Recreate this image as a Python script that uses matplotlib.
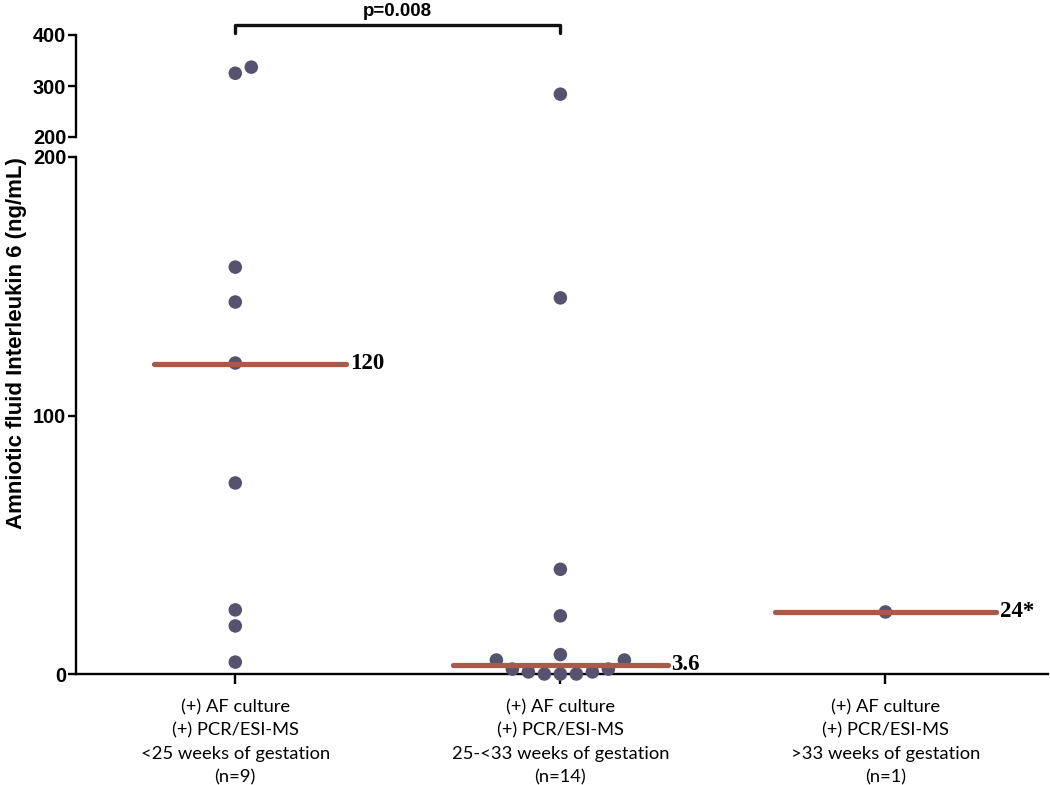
import matplotlib.pyplot as plt
import numpy as np

# data (ng/mL)
groups = ['(+) AF culture\n(+) PCR/ESI-MS\n<25 weeks of gestation\n(n=9)',
          '(+) AF culture\n(+) PCR/ESI-MS\n25-<33 weeks of gestation\n(n=14)',
          '(+) AF culture\n(+) PCR/ESI-MS\n>33 weeks of gestation\n(n=1)']
g1 = [4.6, 18.6, 24.8, 73.9, 120.3, 143.9, 157.4, 325, 337]
g2 = [0, 0, 0, 0.8, 0.8, 1.9, 1.9, 5.4, 5.4, 7.5, 22.5, 40.5, 145.5, 284]
g3 = [24]
medians = [120, 3.6, 24]
median_labels = ['120', '3.6', '24*']
p_text = 'p=0.008'

pt_color = '#55536f'
med_color = '#a65c48'
# median line extent around each category (x units)
med_span = [(-0.25, 0.34), (-0.33, 0.33), (-0.34, 0.34)]

W, H = 1050, 785
fig = plt.figure(figsize=(W / 100, H / 100), dpi=100)
axb = fig.add_axes([76 / W, 1 - 674 / H, 972 / W, 517 / H])
axt = fig.add_axes([76 / W, 1 - 137 / H, 972 / W, 102 / H], sharex=axb)

xlim = (-0.49, 2.5)
axb.set_xlim(*xlim)
axb.set_ylim(0, 200)
axt.set_ylim(200, 400)

lw = 1.7
for ax in (axb, axt):
    ax.spines['top'].set_visible(False)
    ax.spines['right'].set_visible(False)
    ax.spines['left'].set_linewidth(lw)
    ax.tick_params(axis='y', direction='out', length=6, width=lw,
                   labelsize=14.3, pad=1)
axb.spines['bottom'].set_linewidth(lw)
axt.spines['bottom'].set_visible(False)
axt.tick_params(axis='x', bottom=False, labelbottom=False)
axb.set_yticks([0, 100, 200])
axt.set_yticks([200, 300, 400])
for ax in (axb, axt):
    for t in ax.get_yticklabels():
        t.set_fontweight('bold')
        t.set_family('Liberation Sans')

axb.set_xticks([0, 1, 2])
axb.set_xticklabels(groups, family='Lato', fontsize=13.2, linespacing=1.55)
axb.tick_params(axis='x', direction='out', length=7, width=lw, pad=11)

axb.set_ylabel('Amniotic fluid Interleukin 6 (ng/mL)', fontsize=16,
               fontweight='bold', family='Liberation Sans')
axb.yaxis.set_label_coords(-0.05, 0.64)


def swarm(vals, ypx, diam=15.0, step=16.0):
    # simple beeswarm in pixel space, returns x offsets in px
    order = np.argsort(vals)
    placed = []
    offs = np.zeros(len(vals))
    for i in order:
        y = vals[i] * ypx
        k = 0
        while True:
            cands = [0.0] if k == 0 else [k * step, -k * step]
            ok = None
            for c in cands:
                if all((c - px) ** 2 + (y - py) ** 2 >= diam ** 2 for px, py in placed):
                    ok = c
                    break
            if ok is not None:
                offs[i] = ok
                placed.append((ok, y))
                break
            k += 1
    return offs


xpx = 972 / (xlim[1] - xlim[0])
ypx_b = 517 / 200
ypx_t = 102 / 200

for i, vals in enumerate([g1, g2, g3]):
    v = np.array(vals, dtype=float)
    low = v[v <= 200]
    high = v[v > 200]
    if len(low):
        dx = swarm(low, ypx_b) / xpx
        axb.scatter(i + dx, low, s=95, color=pt_color, zorder=3, clip_on=False,
                    edgecolors='none')
    if len(high):
        dx = swarm(high, ypx_t) / xpx
        axt.scatter(i + dx, high, s=95, color=pt_color, zorder=3, clip_on=False,
                    edgecolors='none')
    a, b = med_span[i]
    axb.plot([i + a, i + b], [medians[i]] * 2, color=med_color, lw=3.8,
             solid_capstyle='round', zorder=4, clip_on=False)
    axb.text(i + b + 0.012, medians[i], median_labels[i], family='Liberation Serif',
             fontweight='bold', fontsize=16.5, va='center', ha='left')

# significance bracket
axt.plot([0, 0, 1, 1], [404, 420, 420, 404], color='#111111', lw=2.4,
         solid_joinstyle='round', solid_capstyle='round', clip_on=False)
axt.text(0.5, 446, p_text, ha='center', va='center', fontsize=13.5,
         fontweight='bold', family='Liberation Sans')

fig.savefig('out.png', dpi=100)
